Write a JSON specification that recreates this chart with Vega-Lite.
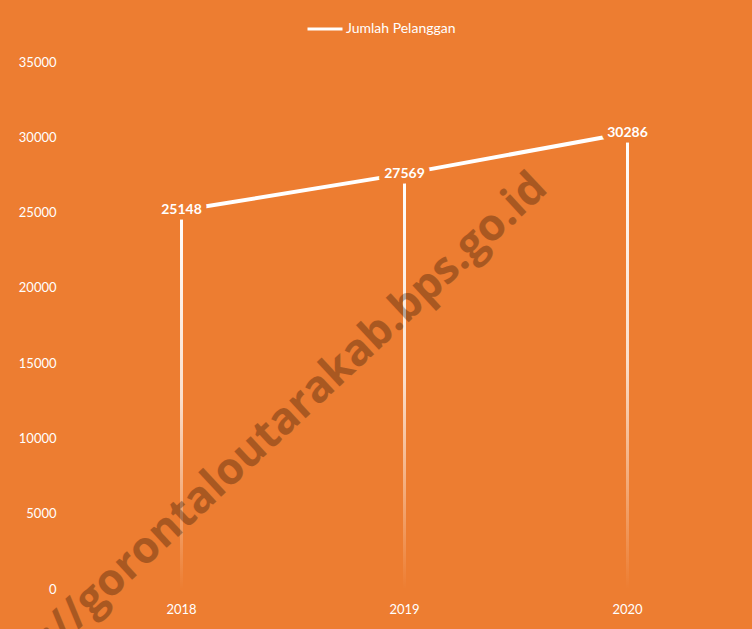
{
  "$schema": "https://vega.github.io/schema/vega-lite/v6.json",
  "width": 669,
  "height": 527,
  "autosize": {"type": "none"},
  "padding": {"left": 70, "top": 62, "right": 13, "bottom": 40},
  "background": "#ED7D31",
  "config": {
    "view": {"stroke": null},
    "font": "Lato",
    "axis": {"labelFont": "Lato", "labelColor": "#FFFFFF", "labelFontSize": 13, "domain": false, "ticks": false, "grid": false, "title": null},
    "legend": {"labelFont": "Lato", "labelColor": "#FFFFFF", "labelFontSize": 14}
  },
  "data": {"values": [
    {"tahun": "2018", "pelanggan": 25148, "seri": "Jumlah Pelanggan"},
    {"tahun": "2019", "pelanggan": 27569, "seri": "Jumlah Pelanggan"},
    {"tahun": "2020", "pelanggan": 30286, "seri": "Jumlah Pelanggan"}
  ]},
  "encoding": {
    "x": {"field": "tahun", "type": "nominal", "scale": {"paddingInner": 0, "paddingOuter": 0}, "axis": {"labelAngle": 0, "labelPadding": 14}},
    "y": {"field": "pelanggan", "type": "quantitative", "scale": {"domain": [0, 35000], "nice": false}, "axis": {"values": [0, 5000, 10000, 15000, 20000, 25000, 30000, 35000], "labelPadding": 14, "format": "d"}}
  },
  "layer": [
    {
      "mark": {"type": "bar", "width": 3, "color": {"gradient": "linear", "x1": 0, "y1": 0, "x2": 0, "y2": 1, "stops": [
        {"offset": 0, "color": "rgba(255,255,255,1)"},
        {"offset": 0.5, "color": "rgba(255,255,255,0.75)"},
        {"offset": 1, "color": "rgba(255,255,255,0)"}
      ]}}
    },
    {
      "mark": {"type": "line", "strokeWidth": 4},
      "encoding": {
        "color": {"field": "seri", "type": "nominal", "scale": {"range": ["#FFFFFF"]}, "legend": {"title": null, "orient": "none", "legendX": 236, "legendY": -52, "symbolType": "stroke", "symbolSize": 1225, "symbolStrokeWidth": 3, "labelOffset": 2}}
      }
    },
    {
      "mark": {"type": "text", "fontWeight": "bold", "fontSize": 14, "color": "#ED7D31", "stroke": "#ED7D31", "strokeWidth": 11, "strokeJoin": "round", "baseline": "middle", "align": "center"},
      "encoding": {"text": {"field": "pelanggan", "type": "quantitative", "format": "d"}}
    },
    {
      "mark": {"type": "text", "fontWeight": "bold", "fontSize": 14, "color": "#FFFFFF", "baseline": "middle", "align": "center"},
      "encoding": {"text": {"field": "pelanggan", "type": "quantitative", "format": "d"}}
    },
    {
      "mark": {"type": "text", "fontWeight": "bold", "fontSize": 44, "font": "Open Sans", "color": "#000000", "opacity": 0.1, "angle": 317, "align": "right", "baseline": "alphabetic", "dx": -107},
      "encoding": {
        "x": {"datum": "2020"},
        "y": {"datum": 31300},
        "text": {"value": "https://gorontaloutarakab.bps.go.id"}
      }
    }
  ]
}
